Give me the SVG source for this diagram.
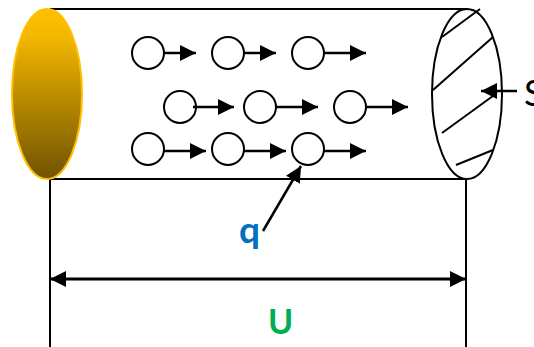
<svg xmlns="http://www.w3.org/2000/svg" width="534" height="347" viewBox="0 0 534 347">
<style>
.l{fill:none;stroke:#000;stroke-width:2}
.a{fill:none;stroke:#000;stroke-width:2.5;marker-end:url(#h)}
.c{fill:#fff;stroke:#000;stroke-width:2}
.t{font-family:"Lato","Open Sans",sans-serif}
</style>
<defs>
<linearGradient id="g" x1="0" y1="0" x2="0" y2="1"><stop offset="0" stop-color="#ffc000"/><stop offset="0.15" stop-color="#f5b800"/><stop offset="1" stop-color="#6f5300"/></linearGradient>
<marker id="h" markerUnits="userSpaceOnUse" markerWidth="16" markerHeight="16" refX="16" refY="8" orient="auto-start-reverse"><path d="M0 0L16 8L0 16Z" fill="#000"/></marker>
</defs>
<g id="body">
<path class="l" d="M50 9H467M50 179H467M50 179V347M466 179V347"/>
</g>
<g id="left-end"><ellipse cx="47" cy="94" rx="35" ry="85" fill="url(#g)" stroke="#ffc000" stroke-width="2"/></g>
<g id="right-end">
<ellipse cx="467" cy="94" rx="35" ry="85" fill="#fff" stroke="#000" stroke-width="2"/>
<path class="l" d="M442 37L480 9M433 90L493 37M442 133L497 93M456 165L493 150"/>
</g>
<g id="p1"><circle class="c" cx="148" cy="53" r="16"/></g>
<g id="p2"><circle class="c" cx="228" cy="53" r="16"/></g>
<g id="p3"><circle class="c" cx="308" cy="53" r="16"/></g>
<g id="p4"><circle class="c" cx="180" cy="107" r="16"/></g>
<g id="p5"><circle class="c" cx="260" cy="107" r="16"/></g>
<g id="p6"><circle class="c" cx="350" cy="107" r="16"/></g>
<g id="p7"><circle class="c" cx="148" cy="149" r="16"/></g>
<g id="p8"><circle class="c" cx="228" cy="149" r="16"/></g>
<g id="p9"><circle class="c" cx="308" cy="149" r="16"/></g>
<g id="connectors">
<path class="a" d="M164 53H196"/><path class="a" d="M244 53H276"/><path class="a" d="M324 53H366"/>
<path class="a" d="M193 107H234"/><path class="a" d="M276 107H318"/><path class="a" d="M366 107H408"/>
<path class="a" d="M164 151H206"/><path class="a" d="M244 151H286"/><path class="a" d="M324 151H366"/>
<path class="a" d="M263 231L301 166"/>
<path class="a" d="M517 91H481"/>
<path class="a" style="marker-start:url(#h);stroke-width:3" d="M50 279H466"/>
</g>
<g id="labels">
<text class="t" x="524" y="106" font-size="36" fill="#000">S</text>
<text class="t" x="239" y="243" font-size="37" font-weight="700" fill="#0070c0">q</text>
<text class="t" x="268" y="334" font-size="34" font-weight="700" fill="#00b050">U</text>
</g>
</svg>
